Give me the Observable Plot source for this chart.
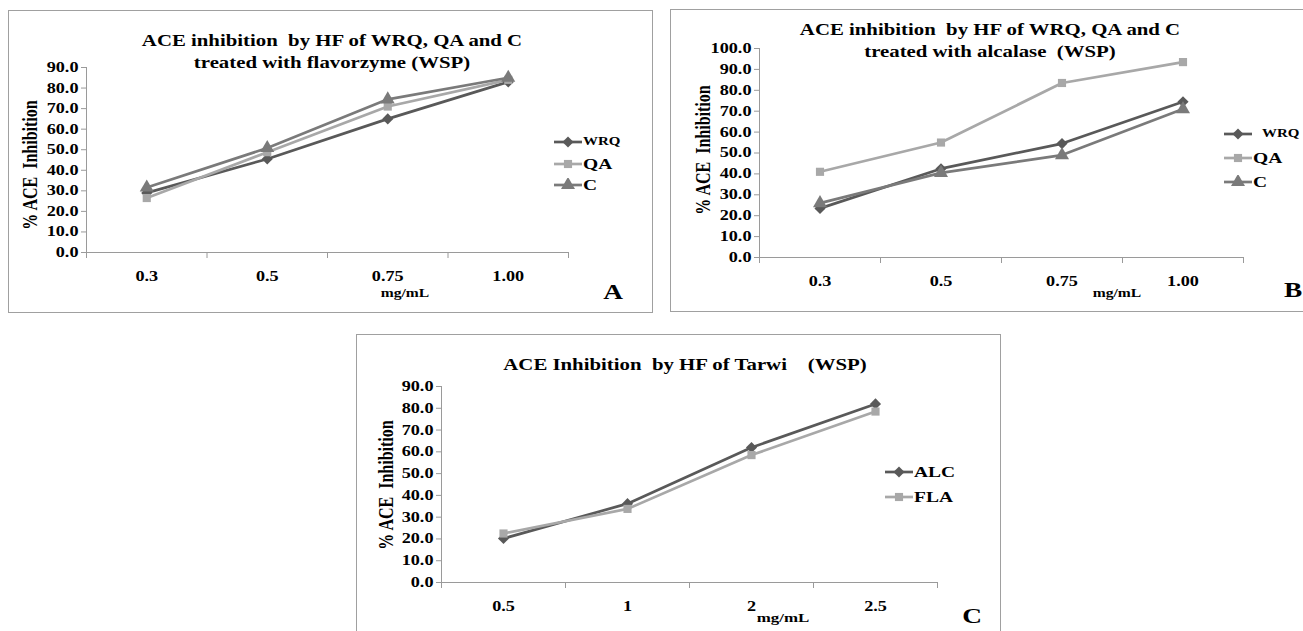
<!DOCTYPE html>
<html>
<head>
<meta charset="utf-8">
<script src="https://cdn.jsdelivr.net/npm/d3@7"></script>
<script src="https://cdn.jsdelivr.net/npm/@observablehq/plot@0.6"></script>
<style>
  html, body { margin: 0; padding: 0; background: #fff; }
  body { width: 1303px; height: 631px; position: relative; overflow: hidden; font-family: "Liberation Serif", "Times New Roman", serif; font-weight: bold; color: #000; }
  .frame { position: absolute; border: 1px solid #a0a0a0; box-sizing: border-box; }
  .t { position: absolute; white-space: pre; line-height: 1; }
  .plot { position: absolute; }
  .lg { position: absolute; }
</style>
</head>
<body>
<script>
// ---------- data ----------
const catsA = ["0.3", "0.5", "0.75", "1.00"];
const wrqA = [29.0, 45.5, 65.0, 83.0];
const qaA  = [26.5, 48.8, 71.0, 84.0];
const cA   = [31.6, 50.8, 74.5, 85.0];

const catsB = ["0.3", "0.5", "0.75", "1.00"];
const wrqB = [23.5, 42.5, 54.5, 74.5];
const qaB  = [41.0, 55.0, 83.5, 93.5];
const cB   = [26.0, 40.5, 49.0, 71.0];

const catsC = ["0.5", "1", "2", "2.5"];
const alcC = [20.2, 36.2, 62.0, 82.0];
const flaC = [22.5, 33.8, 58.5, 78.5];

const yTicksA = [0, 10, 20, 30, 40, 50, 60, 70, 80, 90];
const yTicksB = [0, 10, 20, 30, 40, 50, 60, 70, 80, 90, 100];
const yTicksC = [0, 10, 20, 30, 40, 50, 60, 70, 80, 90];

const DARK = "#595959", LIGHT = "#a8a8a8", MID = "#7a7a7a";
const SX = 1.3; // horizontal stretch of the original lettering

// ---------- helpers ----------
function el(tag, cls, style, text) {
  const e = document.createElement(tag);
  if (cls) e.className = cls;
  Object.assign(e.style, style || {});
  if (text != null) e.textContent = text;
  document.body.appendChild(e);
  return e;
}
function txt(x, y, s, size, tf) {
  return el("div", "t", {left: x + "px", top: y + "px", fontSize: size + "px",
    transform: tf || `translate(-50%, -50%) scaleX(${SX})`}, s);
}
function frame(l, t, w, h) {
  el("div", "frame", {left: l + "px", top: t + "px", width: w + "px", height: h + "px"});
}

const symbolMap = {diamond: "diamond2", square: "square", triangle: "triangle"};
const rMap = {diamond: 5.0, square: 4.6, triangle: 5.2};

function panel(p) {
  const rows = [];
  p.series.forEach(s => s.values.forEach((v, i) => rows.push({i, v, name: s.name})));
  const W = p.width, H = p.height;
  const marks = [
    Plot.ruleX([-0.5], {stroke: "#9a9a9a", strokeWidth: 1}),
    Plot.ruleY([0], {stroke: "#9a9a9a", strokeWidth: 1}),
    Plot.axisY({ticks: p.yTicks, tickFormat: d => d.toFixed(1), tickSize: 5, tickPadding: 3, stroke: "#9a9a9a", fill: "#000", fontSize: 14, fontWeight: "bold", label: null}),
    Plot.axisX({ticks: [-0.5, 0.5, 1.5, 2.5, 3.5], tickSize: 6, tickFormat: () => "", stroke: "#9a9a9a", label: null}),
    Plot.axisX({ticks: [0, 1, 2, 3], tickSize: 0, tickPadding: 19, tickFormat: i => p.cats[i], fill: "#000", fontSize: 14, fontWeight: "bold", label: null})
  ];
  p.series.forEach(s => {
    const d = rows.filter(r => r.name === s.name);
    marks.push(Plot.line(d, {x: "i", y: "v", stroke: s.color, strokeWidth: 2.7}));
  });
  p.series.forEach(s => {
    const d = rows.filter(r => r.name === s.name);
    marks.push(Plot.dot(d, {x: "i", y: "v", fill: s.color, stroke: "none", symbol: () => symbolMap[s.symbol], r: rMap[s.symbol]}));
  });
  const svg = Plot.plot({
    width: W, height: H,
    marginLeft: p.axisLeft - p.left,
    marginRight: (p.left + W) - p.axisRight,
    marginTop: p.yTop - p.top,
    marginBottom: (p.top + H) - p.y0,
    x: {type: "linear", domain: [-0.5, 3.5], axis: null},
    y: {type: "linear", domain: [0, p.ymax], axis: null},
    style: {fontFamily: "'Liberation Serif', serif", fontWeight: "bold", fontSize: "14px", color: "#000", background: "transparent", overflow: "visible"},
    marks
  });
  // stretch tick lettering horizontally like the original
  svg.querySelectorAll("text").forEach(t => {
    const x0 = +(t.getAttribute("x") || 0);
    const tr = t.getAttribute("transform") || "";
    t.setAttribute("transform", `${tr} translate(${x0},0) scale(${SX},1) translate(${-x0},0)`);
  });
  svg.classList.add("plot");
  svg.style.left = p.left + "px";
  svg.style.top = p.top + "px";
  document.body.appendChild(svg);
}

function legend(x, ys, series, sizes, gap) {
  const ns = "http://www.w3.org/2000/svg";
  series.forEach((s, k) => {
    const svg = document.createElementNS(ns, "svg");
    svg.setAttribute("width", 30); svg.setAttribute("height", 14);
    svg.setAttribute("class", "lg");
    svg.style.left = x + "px"; svg.style.top = (ys[k] - 7) + "px";
    const line = document.createElementNS(ns, "line");
    line.setAttribute("x1", 0); line.setAttribute("x2", 28); line.setAttribute("y1", 7); line.setAttribute("y2", 7);
    line.setAttribute("stroke", s.color); line.setAttribute("stroke-width", 2.7);
    svg.appendChild(line);
    const path = document.createElementNS(ns, "path");
    const sym = s.symbol === "diamond" ? d3.symbolDiamond2 : s.symbol === "square" ? d3.symbolSquare : d3.symbolTriangle;
    const r = rMap[s.symbol];
    path.setAttribute("d", d3.symbol(sym, Math.PI * r * r)());
    path.setAttribute("transform", "translate(14,7)");
    path.setAttribute("fill", s.color);
    svg.appendChild(path);
    document.body.appendChild(svg);
    el("div", "t", {left: (x + 29 + (gap[k] || 0)) + "px", top: ys[k] + "px", fontSize: sizes[k] + "px",
      transformOrigin: "0 50%", transform: `translate(0,-50%) scaleX(${SX})`}, s.name);
  });
}
const rotY = `translate(-50%,-50%) rotate(-90deg) scaleY(${SX})`;

// ---------- Panel A ----------
frame(8, 10, 645, 303);
txt(332, 41, "ACE inhibition  by HF of WRQ, QA and C", 16);
txt(332, 63, "treated with flavorzyme (WSP)", 16);
txt(30, 165, "% ACE  Inhibition", 16, rotY);
const seriesA = [
  {name: "WRQ", values: wrqA, color: DARK, symbol: "diamond"},
  {name: "QA", values: qaA, color: LIGHT, symbol: "square"},
  {name: "C", values: cA, color: MID, symbol: "triangle"}
];
panel({cats: catsA, series: seriesA, yTicks: yTicksA, ymax: 90,
  left: 10, top: 55, width: 580, height: 240,
  axisLeft: 86, axisRight: 568, yTop: 67, y0: 252});
legend(554, [142, 164, 185], seriesA, [11.5, 15, 15], [0, 0, 0]);
txt(405, 293, "mg/mL", 12);
txt(613, 292, "A", 21);

// ---------- Panel B ----------
frame(670, 9, 640, 303);
txt(990, 30, "ACE inhibition  by HF of WRQ, QA and C", 16);
txt(990, 52, "treated with alcalase  (WSP)", 16);
txt(704, 150, "% ACE  Inhibition", 16, rotY);
const seriesB = [
  {name: "WRQ", values: wrqB, color: DARK, symbol: "diamond"},
  {name: "QA", values: qaB, color: LIGHT, symbol: "square"},
  {name: "C", values: cB, color: MID, symbol: "triangle"}
];
panel({cats: catsB, series: seriesB, yTicks: yTicksB, ymax: 100,
  left: 690, top: 38, width: 570, height: 250,
  axisLeft: 759, axisRight: 1243, yTop: 48, y0: 257});
legend(1224, [134, 158, 182], seriesB, [11.5, 15, 15], [9, 0, 0]);
txt(1117, 293, "mg/mL", 12);
txt(1293, 290, "B", 21);

// ---------- Panel C ----------
frame(356, 334, 645, 310);
txt(685, 365, "ACE Inhibition  by HF of Tarwi    (WSP)", 16);
txt(386, 485, "% ACE  Inhibition", 16, rotY);
const seriesC = [
  {name: "ALC", values: alcC, color: DARK, symbol: "diamond"},
  {name: "FLA", values: flaC, color: LIGHT, symbol: "square"}
];
panel({cats: catsC, series: seriesC, yTicks: yTicksC, ymax: 90,
  left: 370, top: 374, width: 590, height: 240,
  axisLeft: 441, axisRight: 937, yTop: 386, y0: 582});
legend(885, [472, 497], seriesC, [15, 15], [0, 0]);
txt(783, 617, "mg/mL", 13);
txt(972, 616, "C", 21);
</script>
</body>
</html>
